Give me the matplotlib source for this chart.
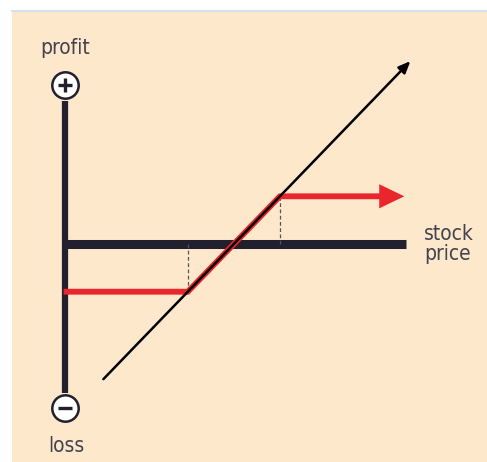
import matplotlib.pyplot as plt
from matplotlib.patches import Rectangle

# payoff diagram data (stock price vs profit)
stock_price = [12.5, 112.5]
stock_profit = [-42.5, 57.5]

strike_low = 40
strike_high = 70
collar_price = [0.5, strike_low, strike_high, 110.5]
collar_profit = [-15, -15, 15, 15]

axis_x_end = 111
axis_y_top = 45
axis_y_bottom = -47

labels = {"up": "profit", "down": "loss", "right": "stock\nprice"}

bg = "#fde8cc"
navy = "#221f2e"
red = "#e8262b"
textc = "#45424f"

fig = plt.figure(figsize=(4.87, 4.62), dpi=100)
ax = fig.add_axes([0, 0, 1, 1])
ax.set_xlim(-21.17, 137.46)
ax.set_ylim(-68.55, 76.73)
ax.axis("off")

# panel background + faint top rule
ax.add_patch(Rectangle((12 / 487, 0), 1, 1 - 11 / 462, transform=ax.transAxes,
                       facecolor=bg, edgecolor="none", zorder=0))
ax.plot([12 / 487, 1], [1 - 11 / 462] * 2, transform=ax.transAxes, color="#d4e2ee", lw=1.5, zorder=1)

# axes bars
ax.plot([0, 0], [axis_y_bottom, axis_y_top], color=navy, lw=4.5, solid_capstyle="butt", zorder=2)
ax.plot([0, axis_x_end], [0, 0], color=navy, lw=6.5, solid_capstyle="butt", zorder=2)

# plus / minus circles
ax.plot([0], [50], marker="o", ms=19, mfc="white", mec=navy, mew=1.8, zorder=4)
ax.plot([0], [50], marker="+", ms=10, mec=navy, mew=2.4, zorder=5)
ax.plot([0], [-51.5], marker="o", ms=19, mfc="white", mec=navy, mew=1.8, zorder=4)
ax.plot([0], [-51.5], marker="_", ms=10, mec=navy, mew=2.4, zorder=5)

# dashed guides at strikes
ax.plot([strike_low, strike_low], [0, collar_profit[0]], color="#555555", lw=0.9, ls=(0, (3, 2)), zorder=2)
ax.plot([strike_high, strike_high], [0, collar_profit[-1]], color="#555555", lw=0.9, ls=(0, (3, 2)), zorder=2)

# red payoff line with arrow
ax.plot(collar_price[:-1] + [collar_price[-1] - 6], collar_profit, color=red, lw=4.2,
        solid_joinstyle="miter", zorder=3)
ax.annotate("", xy=(collar_price[-1], collar_profit[-1]), xytext=(collar_price[-1] - 8, collar_profit[-1]),
            arrowprops=dict(arrowstyle="-|>,head_length=1.2,head_width=0.58", color=red, lw=0,
                            mutation_scale=15, shrinkA=0, shrinkB=0), zorder=3)

# black stock line with arrow
ax.annotate("", xy=(stock_price[1], stock_profit[1]), xytext=(stock_price[0], stock_profit[0]),
            arrowprops=dict(arrowstyle="-|>,head_length=0.7,head_width=0.3", color="black", lw=1.8,
                            shrinkA=0, shrinkB=0), zorder=4)

font = dict(family="DejaVu Sans", stretch="condensed", color=textc, fontsize=15)
ax.text(0, 58.5, labels["up"], ha="center", va="bottom", **font)
ax.text(0.3, -60.5, labels["down"], ha="center", va="top", **font)
ax.text(117, 0, labels["right"], ha="left", va="center", linespacing=1.0, **font)

fig.savefig("out.png", dpi=100)
